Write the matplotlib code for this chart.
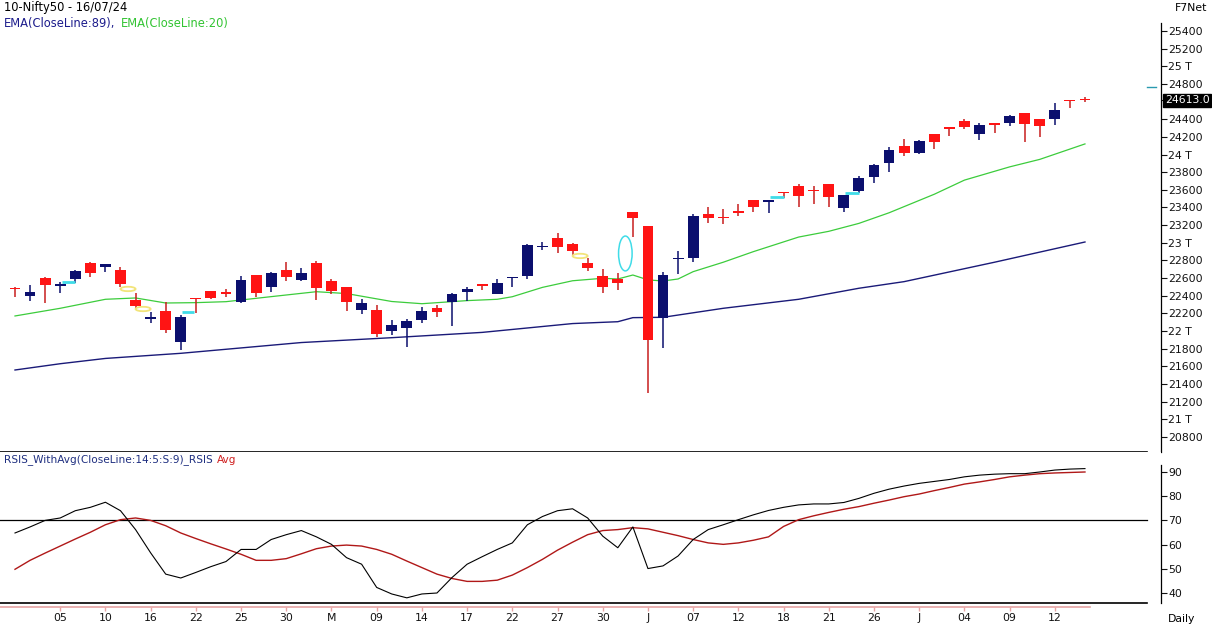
import matplotlib
matplotlib.use("Agg")
import matplotlib.pyplot as plt
import matplotlib.transforms as mtransforms
from matplotlib.patches import Ellipse

# --- data (Nifty50 daily, 02 Apr -> 16 Jul 2024) ---
opens = [22482, 22401, 22601, 22511, 22590, 22775, 22729, 22692, 22352, 22142,
         22227, 21880, 22369, 22454, 22437, 22333, 22635, 22496, 22692, 22579,
         22775, 22567, 22496, 22239, 22239, 22004, 22038, 22125, 22265, 22333,
         22439, 22528, 22420, 22596, 22627, 22950, 23051, 22986, 22775, 22624,
         22587, 23346, 23190, 22145, 22811, 22831, 23326, 23290, 23351, 23485,
         23465, 23570, 23644, 23596, 23666, 23398, 23590, 23742, 23901, 24097,
         24014, 24233, 24303, 24380, 24229, 24348, 24361, 24467, 24399, 24399,
         24612, 24628]
highs = [22503, 22522, 22610, 22559, 22692, 22780, 22765, 22729, 22428, 22213,
         22333, 22182, 22372, 22458, 22473, 22624, 22638, 22669, 22779, 22711,
         22794, 22586, 22500, 22360, 22295, 22125, 22133, 22269, 22295, 22435,
         22496, 22530, 22587, 22616, 22986, 23013, 23108, 22994, 22824, 22700,
         22654, 23350, 23192, 22673, 22907, 23323, 23402, 23380, 23440, 23490,
         23490, 23575, 23666, 23644, 23667, 23545, 23757, 23893, 24089, 24173,
         24165, 24236, 24305, 24403, 24354, 24350, 24443, 24470, 24402, 24587,
         24618, 24655]
lows = [22390, 22344, 22318, 22435, 22548, 22616, 22673, 22503, 22239, 22088,
        21975, 21785, 22201, 22360, 22390, 22315, 22390, 22446, 22571, 22571,
        22352, 22417, 22231, 22190, 21936, 21955, 21823, 22088, 22156, 22061,
        22344, 22465, 22417, 22496, 22587, 22918, 22881, 22862, 22684, 22428,
        22465, 23069, 21295, 21805, 22647, 22786, 23228, 23210, 23304, 23353,
        23341, 23504, 23409, 23440, 23402, 23353, 23568, 23674, 23806, 23987,
        24006, 24059, 24210, 24286, 24165, 24241, 24323, 24145, 24197, 24335,
        24524, 24599]
closes = [22472, 22446, 22525, 22530, 22681, 22661, 22760, 22533, 22284, 22154,
          22012, 22156, 22358, 22378, 22420, 22579, 22435, 22654, 22616, 22654,
          22491, 22454, 22326, 22321, 21967, 22069, 22114, 22227, 22219, 22420,
          22477, 22516, 22541, 22607, 22975, 22961, 22949, 22904, 22718, 22503,
          22548, 23278, 21899, 22635, 22822, 23304, 23278, 23279, 23340, 23409,
          23476, 23561, 23530, 23585, 23515, 23542, 23731, 23882, 24052, 24021,
          24154, 24139, 24292, 24316, 24335, 24337, 24437, 24343, 24327, 24505,
          24601, 24613]

ema20_idx = [0, 3, 6, 8, 10, 12, 14, 17, 20, 22, 25, 27, 30, 32, 33, 35, 37, 39,
             40, 41, 42, 43, 44, 45, 47, 49, 52, 54, 56, 58, 61, 63, 66, 68, 71]
ema20_val = [22171, 22258, 22360, 22375, 22318, 22322, 22333, 22390, 22446, 22425,
             22335, 22310, 22345, 22360, 22389, 22495, 22570, 22598, 22590, 22635,
             22580, 22567, 22590, 22673, 22780, 22900, 23065, 23130, 23220, 23340,
             23550, 23710, 23860, 23945, 24120]

ema89_idx = [0, 3, 6, 11, 19, 25, 31, 37, 40, 41, 43, 47, 52, 56, 59, 65, 71]
ema89_val = [21559, 21630, 21690, 21748, 21870, 21925, 21985, 22085, 22106, 22152,
             22156, 22258, 22360, 22485, 22560, 22780, 23009]

rsi = [64.8, 67.3, 70.0, 71.0, 74.0, 75.4, 77.5, 74.0, 66.2, 56.6,
       47.8, 46.2, 48.5, 50.9, 53.0, 58.0, 58.0, 62.1, 64.1, 65.8,
       63.2, 60.1, 54.6, 51.9, 42.3, 39.6, 38.0, 39.6, 40.0, 46.4,
       51.9, 55.0, 58.0, 60.7, 68.2, 71.6, 74.0, 74.8, 71.0, 63.5,
       58.7, 67.3, 50.1, 51.2, 55.3, 62.1, 66.2, 68.2, 70.3, 72.3,
       74.1, 75.4, 76.4, 76.8, 76.8, 77.4, 79.1, 81.2, 82.9, 84.2,
       85.3, 86.1, 86.9, 88.0, 88.7, 89.1, 89.3, 89.3, 90.0, 90.8,
       91.2, 91.4]
rsi_avg = [49.8, 53.5, 56.5, 59.4, 62.3, 65.1, 68.2, 70.3, 71.0, 70.0,
           67.8, 64.8, 62.5, 60.3, 58.2, 56.0, 53.5, 53.5, 54.2, 56.2,
           58.3, 59.4, 59.8, 59.4, 58.0, 56.0, 53.2, 50.5, 47.8, 46.0,
           44.8, 44.8, 45.3, 47.4, 50.5, 53.9, 57.7, 61.0, 64.1, 65.8,
           66.2, 67.0, 66.5, 65.1, 63.7, 62.1, 60.7, 60.1, 60.7, 61.8,
           63.2, 67.5, 70.3, 71.9, 73.3, 74.6, 75.7, 77.1, 78.4, 79.8,
           80.9, 82.3, 83.6, 85.0, 85.9, 86.9, 88.0, 88.7, 89.3, 89.6,
           89.8, 90.0]

date_labels = ["05", "10", "16", "22", "25", "30", "M", "09", "14", "17", "22", "27",
               "30", "J", "07", "12", "18", "21", "26", "J", "04", "09", "12"]
date_label_idx = list(range(3, 72, 3))

price_ticks = list(range(20800, 25401, 200))
last_price = 24613.0

# pattern markers: (start idx, end idx, level) and (idx, level)
cyan_lines = [(3.1, 4.0, 22560), (11.1, 11.9, 22213), (50.1, 51.0, 23516), (55.1, 56.0, 23568)]
yellow_ovals = [(7.5, 22477), (8.5, 22250), (37.5, 22851)]
gap_oval = (40.5, 22879)
axis_mark = 24765

# --- layout ---
W, H = 1212, 627
NAVY = "#0b0f6e"
RED = "#ff1414"
GREEN = "#3ccc3c"
CYAN = "#40dce8"
YELLOW = "#f2e47a"
step = 15.07
x0, x1 = -15 / step, (1161 - 15) / step
line_end = 1147 / 1161

fig = plt.figure(figsize=(W / 100, H / 100), dpi=100)
ax = fig.add_axes([0, (H - 452) / H, 1161 / W, (452 - 23) / H])
ax_r = fig.add_axes([0, (H - 603) / H, 1161 / W, (603 - 452) / H])

for a in (ax, ax_r):
    a.set_xlim(x0, x1)
    for s in ("top", "bottom", "left"):
        a.spines[s].set_visible(False)
    a.spines["right"].set_linewidth(0.9)
    a.yaxis.tick_right()
    a.tick_params(axis="y", length=4, width=0.8, pad=1, labelsize=7.8, colors="#111111")
    a.set_facecolor("white")

# price panel
ax.set_ylim(20630, 25490)
ax.plot(ema89_idx, ema89_val, color="#1a1a78", lw=1.0, zorder=2)
ax.plot(ema20_idx, ema20_val, color=GREEN, lw=0.9, zorder=2)

idx = list(range(len(closes)))
up = [c >= o for o, c in zip(opens, closes)]
body_col = [NAVY if u else RED for u in up]
wick_col = [NAVY if u else "#c81e1e" for u in up]
bottoms = [min(o, c) for o, c in zip(opens, closes)]
heights = [max(abs(c - o), 18) for o, c in zip(opens, closes)]
ax.vlines(idx, lows, highs, colors=wick_col, lw=1.1, zorder=3)
ax.bar(idx, heights, bottom=bottoms, width=0.72, color=body_col, lw=0, zorder=4)

for xs, xe, lvl in cyan_lines:
    ax.hlines(lvl, xs, xe, color=CYAN, lw=2.0, zorder=5)
for xc, lvl in yellow_ovals:
    ax.add_patch(Ellipse((xc, lvl), 1.0, 50, fill=False, ec=YELLOW, lw=1.3, zorder=5))
ax.add_patch(Ellipse(gap_oval, 0.9, 395, fill=False, ec=CYAN, lw=1.1, zorder=5))

tick_lbl = []
for t in price_ticks:
    tick_lbl.append(f"{t // 1000} T" if t % 1000 == 0 else str(t))
keep = [i for i, t in enumerate(price_ticks) if t != 24600]
ax.set_yticks([price_ticks[i] for i in keep] + [last_price],
              [tick_lbl[i] for i in keep] + [""])
ax.set_xticks([])

blend = mtransforms.blended_transform_factory(ax.transAxes, ax.transData)
ax.text(1.0035, last_price, "24613.0", transform=blend, ha="left", va="center",
        fontsize=7.8, color="white",
        bbox=dict(boxstyle="square,pad=0.15", fc="black", ec="black"))
ax.plot([1147 / 1161, 1156 / 1161], [axis_mark, axis_mark], transform=blend,
        color="#2a9ab0", lw=1.0, clip_on=False)
ax.plot([0, line_end], [0, 0], transform=ax.transAxes, color="black", lw=1.2,
        clip_on=False)

# RSI panel
ax_r.set_ylim(35.87, 98.26)
ax_r.spines["right"].set_bounds(35.87, 92.8)
ax_r.plot(idx, rsi_avg, color="#b01818", lw=1.0, zorder=3)
ax_r.plot(idx, rsi, color="black", lw=0.8, zorder=4)
ax_r.axhline(70, xmax=line_end, color="black", lw=0.9)
ax_r.plot([0, line_end], [0, 0], transform=ax_r.transAxes, color="black", lw=1.2,
          clip_on=False)
ax_r.plot([0, 1090 / 1161], [-3.5 / 151] * 2, transform=ax_r.transAxes,
          color="#e6a4a4", lw=1.2, clip_on=False)
xblend = mtransforms.blended_transform_factory(ax_r.transData, ax_r.transAxes)
ax_r.vlines(date_label_idx, -7.5 / 151, -3.5 / 151, transform=xblend,
            colors="#e6a4a4", lw=1.0, clip_on=False)
ax_r.set_yticks([40, 50, 60, 70, 80, 90])
ax_r.set_xticks(date_label_idx, date_labels)
ax_r.tick_params(axis="x", length=0, pad=7.5, labelsize=7.8, colors="#111111")

# header texts
fs = 8.3
fig.text(4 / W, 1 - 8 / H, "10-Nifty50 - 16/07/24", fontsize=fs, va="center")
fig.text(4 / W, 1 - 23 / H, "EMA(CloseLine:89),", fontsize=fs, va="center", color="#1c1c8c")
fig.text(121 / W, 1 - 23 / H, "EMA(CloseLine:20)", fontsize=fs, va="center", color="#33c433")
fig.text(1207 / W, 1 - 8 / H, "F7Net", fontsize=7.8, va="center", ha="right")
fig.text(4 / W, 1 - 460 / H, "RSIS_WithAvg(CloseLine:14:5:S:9)_RSIS", fontsize=7.6,
         va="center", color="#1f2f80")
fig.text(217 / W, 1 - 460 / H, "Avg", fontsize=7.6, va="center", color="#d02020")
fig.text(1168 / W, 1 - 619 / H, "Daily", fontsize=7.8, va="center")

fig.savefig("out.png", dpi=100, facecolor="white")
